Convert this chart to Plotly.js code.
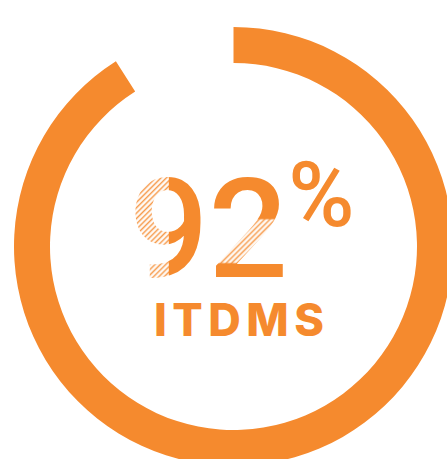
<!DOCTYPE html>
<html>
<head>
<meta charset="utf-8">
<script src="https://cdn.plot.ly/plotly-3.0.1.min.js"></script>
<style>
html,body{margin:0;padding:0;overflow:hidden;background:#fff;width:447px;height:459px;}
#chart{position:absolute;left:0;top:0;}
</style>
</head>
<body>
<div id="chart"></div>
<script>
const labels = ["ITDMS", "Remaining"];
const values = [91, 9];
const headline = "92";
const unit = "%";
const caption = "ITDMS";

const ORANGE = "#F58A2E";
const W = 467, H = 493;
const cx = 233.5, cy = 246.5, rOut = 219.5, rIn = 183.5;
const NUM_SIZE = 140;

const trace = {
  type: "pie",
  labels: labels,
  values: values,
  sort: false,
  direction: "clockwise",
  rotation: 0,
  hole: rIn / rOut,
  textinfo: "none",
  hoverinfo: "none",
  marker: {colors: [ORANGE, "rgba(0,0,0,0)"], line: {width: 0}},
  domain: {x: [(cx - rOut) / W, (cx + rOut) / W], y: [(H - (cy + rOut)) / H, (H - (cy - rOut)) / H]},
  showlegend: false
};

const centreText =
  '<span style="font-size:' + NUM_SIZE + 'px;font-family:Roboto;font-weight:500">' + headline + '</span>' +
  '<span style="font-size:90px;font-family:Roboto;font-weight:500;baseline-shift:51px">' + unit + '</span>' +
  '<br><span style="letter-spacing:5.5px">' + caption + '</span>';

const layout = {
  width: W, height: H,
  margin: {l: 0, r: 0, t: 0, b: 0},
  paper_bgcolor: "#fff",
  showlegend: false,
  annotations: [
    {text: centreText,
     x: 241 / W, y: 1 - 244.7 / H, xref: "paper", yref: "paper", xanchor: "center", yanchor: "middle",
     align: "center", valign: "middle", showarrow: false,
     font: {family: "Inter", size: 45, weight: 800, color: ORANGE}}
  ]
};

const NS = "http://www.w3.org/2000/svg";
function el(tag, attrs, parent) {
  const e = document.createElementNS(NS, tag);
  for (const k in attrs) e.setAttribute(k, attrs[k]);
  if (parent) parent.appendChild(e);
  return e;
}

function applyHatch() {
  const gd = document.getElementById("chart");
  const txt = Array.from(gd.querySelectorAll("text.annotation-text")).find(t => t.textContent.indexOf(headline) === 0);
  if (!txt) return;
  const svg = txt.ownerSVGElement;
  const defs = el("defs", {}, null);
  svg.insertBefore(defs, svg.firstChild);

  const p = 3.8;
  const hatch = el("pattern", {id: "hatchLines", patternUnits: "userSpaceOnUse", width: p, height: p, patternTransform: "rotate(45)"}, defs);
  el("rect", {x: 0, y: 0, width: p, height: p, fill: "#ffffff"}, hatch);
  el("rect", {x: 0, y: 0, width: 1.3, height: p, fill: ORANGE}, hatch);

  const bb = txt.getBBox();
  const X0 = bb.x - 30, Y0 = bb.y - 30, PW = bb.width + 60, PH = bb.height + 60;
  const fillPat = el("pattern", {id: "numFill", patternUnits: "userSpaceOnUse", x: X0, y: Y0, width: PW, height: PH}, defs);
  const g = el("g", {transform: "translate(" + (-X0) + "," + (-Y0) + ")"}, fillPat);
  el("rect", {x: X0, y: Y0, width: PW, height: PH, fill: ORANGE}, g);

  const base = txt.getStartPositionOfChar(0).y;
  const cap = 0.711 * NUM_SIZE;
  const top = base - cap;
  const e0 = txt.getExtentOfChar(0);
  const e1 = txt.getExtentOfChar(1);
  // left half of the "9"
  el("rect", {x: e0.x - 6, y: top - 6, width: e0.width * 0.5 + 6, height: cap + 12, fill: "url(#hatchLines)"}, g);
  // diagonal stroke of the "2"
  el("rect", {x: e1.x - 6, y: top + 0.42 * cap, width: e1.width + 6, height: 0.44 * cap, fill: "url(#hatchLines)"}, g);

  txt.style.setProperty("fill", "url(#numFill)");
}

Plotly.newPlot("chart", [trace], layout, {displayModeBar: false, staticPlot: true}).then(applyHatch);
</script>
</body>
</html>
